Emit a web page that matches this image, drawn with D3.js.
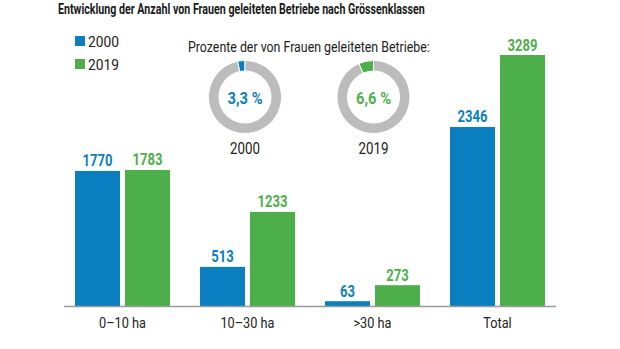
<!DOCTYPE html>
<html><head><meta charset="utf-8">
<script src="https://cdn.jsdelivr.net/npm/d3@7"></script>
<style>
body{margin:0;background:#fff;}
text{font-family:"Liberation Sans Narrow","Roboto","Liberation Sans",Arial,sans-serif;}
</style></head>
<body>
<svg id="c" width="620" height="349"></svg>
<script>
const title = "Entwicklung der Anzahl von Frauen geleiteten Betriebe nach Grössenklassen";
const categories = ["0–10 ha", "10–30 ha", ">30 ha", "Total"];
const series = ["2000", "2019"];
const values2000 = [1770, 513, 63, 2346];
const values2019 = [1783, 1233, 273, 3289];
const shareTitle = "Prozente der von Frauen geleiteten Betriebe:";
const shares = [3.3, 6.6];
const shareLabels = ["3,3 %", "6,6 %"];
const colors = ["#0a7fc0", "#4daf4a"];

const svg = d3.select("#c");

// horizontally condense text placed at (x,y) to reach a target width
function squeeze(sel, target){
  const w = sel.node().getComputedTextLength();
  const f = target / w;
  sel.each(function(){
    const s = d3.select(this);
    const x = +s.attr("x") || 0, y = +s.attr("y") || 0;
    s.attr("x",0).attr("y",0).attr("transform",`translate(${x},${y}) scale(${f},1)`);
  });
}

// title
const t = svg.append("text").attr("x",58).attr("y",13.5).attr("font-size",15.5)
  .attr("font-weight","bold").attr("fill","#1a1a1a").text(title);
squeeze(t, 367);

// scales
const x = d3.scaleBand().domain(categories).range([75,545]).paddingInner(0.24).paddingOuter(0);
const xs = d3.scaleBand().domain(series).range([0,x.bandwidth()]).paddingInner(0.1);
const y = d3.scaleLinear().domain([0,3289]).range([306,55]);
const col = d3.scaleOrdinal().domain(series).range(colors);

const data = categories.map((c,i)=>({cat:c, vals:[{s:"2000",v:values2000[i]},{s:"2019",v:values2019[i]}]}));

const g = svg.append("g").selectAll("g").data(data).join("g")
  .attr("transform", d=>`translate(${x(d.cat)},0)`);
g.selectAll("rect").data(d=>d.vals).join("rect")
  .attr("x", d=>xs(d.s)).attr("width", xs.bandwidth())
  .attr("y", d=>y(d.v)).attr("height", d=>y(0)-y(d.v))
  .attr("fill", d=>col(d.s));
const lbl = g.selectAll("text").data(d=>d.vals).join("text")
  .attr("x", d=>xs(d.s)+xs.bandwidth()/2).attr("y", d=>y(d.v)-4.5)
  .attr("text-anchor","middle").attr("font-size",16).attr("font-weight","bold")
  .attr("fill", d=>col(d.s)).text(d=>d.v);
squeeze(lbl, 30);

// category axis
const axis = d3.axisBottom(x).tickSize(0).tickPadding(11);
const ax = svg.append("g").attr("transform","translate(0,306.5)").call(axis);
ax.select(".domain").remove();
svg.append("line").attr("x1",64).attr("x2",556).attr("y1",306.5).attr("y2",306.5)
  .attr("stroke","#9a9a9a").attr("stroke-width",1.5);
const tt = ax.selectAll("text").attr("font-size",14.5).attr("fill","#222")
  .attr("font-family",'"Liberation Sans Narrow","Roboto","Liberation Sans",Arial,sans-serif');
{
  const w = tt.node().getComputedTextLength(); const f = 47 / w;
  tt.attr("transform",`scale(${f},1)`);
}

// legend
const lg = svg.append("g").selectAll("g").data(series).join("g")
  .attr("transform",(d,i)=>`translate(75,${36+i*23})`);
lg.append("rect").attr("width",10).attr("height",10).attr("fill",d=>col(d));
const lt = lg.append("text").attr("x",13).attr("y",10.5).attr("font-size",15.5).attr("fill","#222").text(d=>d);
squeeze(lt, 31);

// donuts
const st = svg.append("text").attr("x",188).attr("y",52).attr("font-size",15).attr("fill","#222").text(shareTitle);
squeeze(st, 242);

const centers = [245, 373.5];
const arc = d3.arc().innerRadius(26).outerRadius(36.5);
shares.forEach((p,i)=>{
  const dg = svg.append("g").attr("transform",`translate(${centers[i]},97)`);
  const pie = d3.pie().sort(null).startAngle(0).endAngle(-2*Math.PI)([p,100-p]);
  dg.selectAll("path").data(pie).join("path").attr("d",arc)
    .attr("fill",(d,j)=> j===0 ? colors[i] : "#bcbcbc")
    .attr("stroke","#fff").attr("stroke-width",1);
  const pl = dg.append("text").attr("x",0).attr("y",6.5).attr("text-anchor","middle").attr("font-size",16)
    .attr("font-weight","bold").attr("fill",colors[i]).text(shareLabels[i]);
  squeeze(pl, 35);
  const yl = dg.append("text").attr("x",0).attr("y",57).attr("text-anchor","middle").attr("font-size",16)
    .attr("fill","#222").text(series[i]);
  squeeze(yl, 30);
});
</script>
</body></html>
